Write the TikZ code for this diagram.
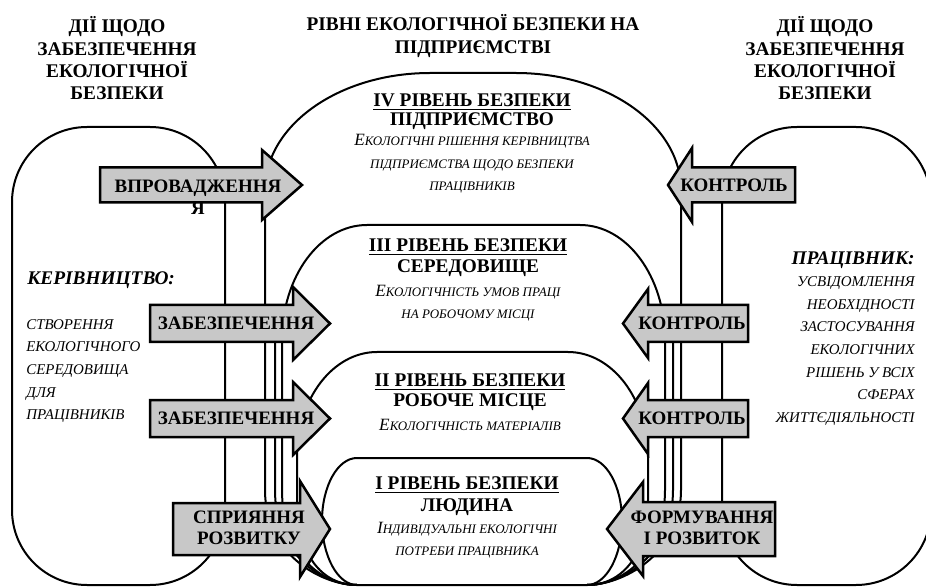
\documentclass[tikz,border=0pt]{standalone}
\usepackage{fontspec}
\IfFontExistsTF{LiberationSerif-Regular.ttf}
  {\setmainfont{LiberationSerif}[Extension=.ttf, UprightFont=*-Regular, BoldFont=*-Bold,
     ItalicFont=*-Italic, BoldItalicFont=*-BoldItalic]}
  {\setmainfont{Liberation Serif}}
\definecolor{arrowgray}{RGB}{200,200,200}
\tikzstyle{outline}=[line width=0.4mm, line join=round]
\tikzstyle{arrowbox}=[draw, line width=0.5mm, fill=arrowgray, line join=miter]
\tikzstyle{heading}=[font=\fontsize{11}{12.7}\selectfont\bfseries, align=center, inner sep=0pt]
\tikzstyle{arrowtext}=[font=\fontsize{10.8}{12.3}\selectfont\bfseries, align=center, inner sep=0pt]
\tikzstyle{leveltitle}=[font=\fontsize{11}{12.7}\selectfont\bfseries, inner sep=0pt]
\tikzstyle{levelnote}=[font=\fontsize{7.4}{12.7}\selectfont\itshape, align=center, inner sep=0pt]
\tikzstyle{sidehead}=[font=\fontsize{11}{12.7}\selectfont\bfseries\itshape, inner sep=0pt]
\tikzstyle{sidenote}=[font=\fontsize{8.5}{12.9}\selectfont\itshape, inner sep=0pt]
\newcommand{\capfirst}[1]{{\fontsize{9.8}{12.7}\selectfont #1}}

\begin{document}
\begin{tikzpicture}[x=0.2mm, y=-0.2mm]
    \useasboundingbox (0,0) rectangle (926,587);
    \clip (0,0) rectangle (926,587);

    % side blocks
    \draw[outline, rounded corners=15mm] (12,127) rectangle (225,585);
    \draw[outline, rounded corners=15mm] (722,127) rectangle (931,585);

    % levels IV, III, II
    \draw[outline] (357,585) .. controls (322,585) and (265,555) .. (265,490) -- (265,190)
        .. controls (265,125.4) and (338.9,73) .. (430,73) -- (516,73)
        .. controls (607.1,73) and (681,125.4) .. (681,190) -- (681,490)
        .. controls (681,555) and (622,585) .. (587,585);
    \draw[outline] (357,585) .. controls (322,585) and (282,555) .. (282,490) -- (282,340)
        .. controls (282,276.5) and (320,225) .. (367,225) -- (580,225)
        .. controls (627,225) and (665,276.5) .. (665,340) -- (665,490)
        .. controls (665,555) and (622,585) .. (587,585);
    \draw[outline] (275,330) -- (275,490) .. controls (275,555) and (322,585) .. (357,585);
    \draw[outline] (673,330) -- (673,490) .. controls (673,555) and (622,585) .. (587,585);
    \draw[outline] (357,585) .. controls (322,585) and (297,555) .. (297,500) -- (297,457)
        .. controls (297,399) and (332.8,352) .. (377,352) -- (568,352)
        .. controls (612.2,352) and (648,399) .. (648,457) -- (648,500)
        .. controls (648,555) and (622,585) .. (587,585);
    % level I
    \draw[outline] (322,521) .. controls (322,486.2) and (337.7,458) .. (357,458) -- (587,458)
        .. controls (606.3,458) and (622,486.2) .. (622,521)
        .. controls (622,555.8) and (606.3,585) .. (587,585) -- (357,585)
        .. controls (337.7,585) and (322,555.8) .. (322,521) -- cycle;

    % arrows to the levels
    \draw[arrowbox] (100,167.5) -- (262,167.5) -- (262,150) -- (302,185) -- (262,220) -- (262,202.5) -- (100,202.5) -- cycle;
    \draw[arrowbox] (150,305) -- (293,305) -- (293,287) -- (330,323.5) -- (293,360) -- (293,342) -- (150,342) -- cycle;
    \draw[arrowbox] (150,400) -- (293,400) -- (293,382) -- (330,418.5) -- (293,455) -- (293,437) -- (150,437) -- cycle;
    \draw[arrowbox] (173,503) -- (300,503) -- (300,481) -- (330,529) -- (300,577) -- (300,555) -- (173,555) -- cycle;
    \draw[arrowbox] (795,167.5) -- (692,167.5) -- (692,148) -- (668,185) -- (692,222) -- (692,202.5) -- (795,202.5) -- cycle;
    \draw[arrowbox] (748,305) -- (648,305) -- (648,289) -- (623,323.5) -- (648,358) -- (648,342) -- (748,342) -- cycle;
    \draw[arrowbox] (748,400) -- (648,400) -- (648,383) -- (623,418.5) -- (648,454) -- (648,437) -- (748,437) -- cycle;
    \draw[arrowbox] (775,502) -- (643,502) -- (643,482) -- (607,529) -- (643,576) -- (643,556) -- (775,556) -- cycle;

    % arrow labels
    \node[arrowtext] (impl) at (198,197) {ВПРОВАДЖЕННЯ\\Я};
    \node[arrowtext] (prov3) at (236,323.5) {ЗАБЕЗПЕЧЕННЯ};
    \node[arrowtext] (prov2) at (236,418.5) {ЗАБЕЗПЕЧЕННЯ};
    \node[arrowtext] (promo) at (249,528) {СПРИЯННЯ\\РОЗВИТКУ};
    \node[arrowtext] (ctrl4) at (734,185) {КОНТРОЛЬ};
    \node[arrowtext] (ctrl3) at (692,323.5) {КОНТРОЛЬ};
    \node[arrowtext] (ctrl2) at (692,418.5) {КОНТРОЛЬ};
    \node[arrowtext] (form) at (702,528) {ФОРМУВАННЯ\\І РОЗВИТОК};

    % headings
    \node[heading] (hleft) at (117,58.5) {ДІЇ ЩОДО\\ЗАБЕЗПЕЧЕННЯ\\ЕКОЛОГІЧНОЇ\\БЕЗПЕКИ};
    \node[heading] (hright) at (825,58.5) {ДІЇ ЩОДО\\ЗАБЕЗПЕЧЕННЯ\\ЕКОЛОГІЧНОЇ\\БЕЗПЕКИ};
    \node[heading] (hmid) at (473,36) {РІВНІ ЕКОЛОГІЧНОЇ БЕЗПЕКИ НА\\ПІДПРИЄМСТВІ};

    % level texts
    \node[leveltitle, anchor=base] (t4) at (472,106.5) {\underline{IV РІВЕНЬ БЕЗПЕКИ}};
    \node[leveltitle] (n4) at (472,121) {ПІДПРИЄМСТВО};
    \node[levelnote] (d4) at (472,164) {\capfirst{Е}КОЛОГІЧНІ РІШЕННЯ КЕРІВНИЦТВА\\ПІДПРИЄМСТВА ЩОДО БЕЗПЕКИ\\ПРАЦІВНИКІВ};

    \node[leveltitle, anchor=base] (t3) at (468,251.5) {\underline{III РІВЕНЬ БЕЗПЕКИ}};
    \node[leveltitle] (n3) at (468,268) {СЕРЕДОВИЩЕ};
    \node[levelnote] (d3) at (468,303.5) {\capfirst{Е}КОЛОГІЧНІСТЬ УМОВ ПРАЦІ\\НА РОБОЧОМУ МІСЦІ};

    \node[leveltitle, anchor=base] (t2) at (470,386.5) {\underline{II РІВЕНЬ БЕЗПЕКИ}};
    \node[leveltitle] (n2) at (470,402) {РОБОЧЕ МІСЦЕ};
    \node[levelnote] (d2) at (470,425) {\capfirst{Е}КОЛОГІЧНІСТЬ МАТЕРІАЛІВ};

    \node[leveltitle, anchor=base] (t1) at (467,489.5) {\underline{I РІВЕНЬ БЕЗПЕКИ}};
    \node[leveltitle] (n1) at (467,507) {ЛЮДИНА};
    \node[levelnote] (d1) at (467,540) {\capfirst{І}НДИВІДУАЛЬНІ ЕКОЛОГІЧНІ\\ПОТРЕБИ ПРАЦІВНИКА};

    % side texts
    \node[sidehead, anchor=west] (boss) at (27,280) {КЕРІВНИЦТВО:};
    \node[sidenote, anchor=west, align=left] (bossnote) at (26,371) {СТВОРЕННЯ\\ЕКОЛОГІЧНОГО\\СЕРЕДОВИЩА\\ДЛЯ\\ПРАЦІВНИКІВ};
    \node[sidehead, anchor=east] (staff) at (915,260) {ПРАЦІВНИК:};
    \node[sidenote, anchor=east, align=right] (staffnote) at (915,351) {УСВІДОМЛЕННЯ\\НЕОБХІДНОСТІ\\ЗАСТОСУВАННЯ\\ЕКОЛОГІЧНИХ\\РІШЕНЬ У ВСІХ\\СФЕРАХ\\ЖИТТЄДІЯЛЬНОСТІ};
\end{tikzpicture}
\end{document}
